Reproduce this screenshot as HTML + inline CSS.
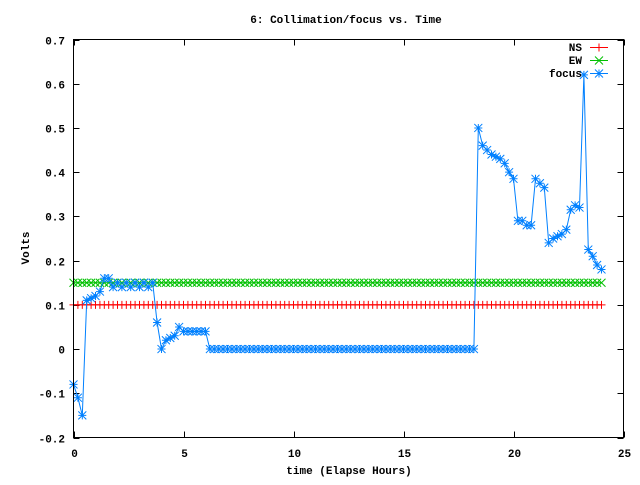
<!DOCTYPE html>
<html><head><meta charset="utf-8"><style>
body{margin:0;background:#fff}
svg text{font-family:"Liberation Mono",monospace;font-weight:bold;font-size:11px;fill:#000}
</style></head><body>
<svg id="chart" width="640" height="480" xmlns="http://www.w3.org/2000/svg">
<rect width="640" height="480" fill="#fff"/>
<text x="346" y="23" text-anchor="middle">6: Collimation/focus vs. Time</text>
<text x="349" y="474" text-anchor="middle">time (Elapse Hours)</text>
<text transform="translate(29,248) rotate(-90)" text-anchor="middle">Volts</text>
<g id="axes"></g>
<g id="series"></g>
<g id="legend"></g>
<rect x="73.5" y="39.5" width="550" height="398" fill="none" stroke="#000" stroke-width="1"/>
</svg>
<script>
const xTicks=[0,5,10,15,20,25];
const yTicks=[-0.2,-0.1,0,0.1,0.2,0.3,0.4,0.5,0.6,0.7];
const yTickLabels=["-0.2","-0.1","0","0.1","0.2","0.3","0.4","0.5","0.6","0.7"];
const times=[0,0.2,0.4,0.6,0.8,1,1.2,1.4,1.6,1.8,2,2.2,2.4,2.6,2.8,3,3.2,3.4,3.6,3.8,4,4.2,4.4,4.6,4.8,5,5.2,5.4,5.6,5.8,6,6.2,6.4,6.6,6.8,7,7.2,7.4,7.6,7.8,8,8.2,8.4,8.6,8.8,9,9.2,9.4,9.6,9.8,10,10.2,10.4,10.6,10.8,11,11.2,11.4,11.6,11.8,12,12.2,12.4,12.6,12.8,13,13.2,13.4,13.6,13.8,14,14.2,14.4,14.6,14.8,15,15.2,15.4,15.6,15.8,16,16.2,16.4,16.6,16.8,17,17.2,17.4,17.6,17.8,18,18.2,18.4,18.6,18.8,19,19.2,19.4,19.6,19.8,20,20.2,20.4,20.6,20.8,21,21.2,21.4,21.6,21.8,22,22.2,22.4,22.6,22.8,23,23.2,23.4,23.6,23.8,24];
const nsValues=[0.1,0.1,0.1,0.1,0.1,0.1,0.1,0.1,0.1,0.1,0.1,0.1,0.1,0.1,0.1,0.1,0.1,0.1,0.1,0.1,0.1,0.1,0.1,0.1,0.1,0.1,0.1,0.1,0.1,0.1,0.1,0.1,0.1,0.1,0.1,0.1,0.1,0.1,0.1,0.1,0.1,0.1,0.1,0.1,0.1,0.1,0.1,0.1,0.1,0.1,0.1,0.1,0.1,0.1,0.1,0.1,0.1,0.1,0.1,0.1,0.1,0.1,0.1,0.1,0.1,0.1,0.1,0.1,0.1,0.1,0.1,0.1,0.1,0.1,0.1,0.1,0.1,0.1,0.1,0.1,0.1,0.1,0.1,0.1,0.1,0.1,0.1,0.1,0.1,0.1,0.1,0.1,0.1,0.1,0.1,0.1,0.1,0.1,0.1,0.1,0.1,0.1,0.1,0.1,0.1,0.1,0.1,0.1,0.1,0.1,0.1,0.1,0.1,0.1,0.1,0.1,0.1,0.1,0.1,0.1,0.1];
const ewValues=[0.15,0.15,0.15,0.15,0.15,0.15,0.15,0.15,0.15,0.15,0.15,0.15,0.15,0.15,0.15,0.15,0.15,0.15,0.15,0.15,0.15,0.15,0.15,0.15,0.15,0.15,0.15,0.15,0.15,0.15,0.15,0.15,0.15,0.15,0.15,0.15,0.15,0.15,0.15,0.15,0.15,0.15,0.15,0.15,0.15,0.15,0.15,0.15,0.15,0.15,0.15,0.15,0.15,0.15,0.15,0.15,0.15,0.15,0.15,0.15,0.15,0.15,0.15,0.15,0.15,0.15,0.15,0.15,0.15,0.15,0.15,0.15,0.15,0.15,0.15,0.15,0.15,0.15,0.15,0.15,0.15,0.15,0.15,0.15,0.15,0.15,0.15,0.15,0.15,0.15,0.15,0.15,0.15,0.15,0.15,0.15,0.15,0.15,0.15,0.15,0.15,0.15,0.15,0.15,0.15,0.15,0.15,0.15,0.15,0.15,0.15,0.15,0.15,0.15,0.15,0.15,0.15,0.15,0.15,0.15,0.15];
const focusValues=[-0.08,-0.11,-0.15,0.11,0.115,0.12,0.13,0.16,0.16,0.14,0.15,0.14,0.15,0.14,0.15,0.14,0.15,0.14,0.15,0.06,0,0.02,0.025,0.03,0.05,0.04,0.04,0.04,0.04,0.04,0.04,
0,0,0,0,0,0,0,0,0,0,0,0,0,0,0,0,0,0,0,0,0,0,0,0,0,0,0,0,0,0,0,0,0,0,0,0,0,0,0,0,0,0,0,0,0,0,0,0,0,0,0,0,0,0,0,0,0,0,0,0,0,
0.5,0.46,0.45,0.44,0.435,0.43,0.42,0.40,0.385,0.29,0.29,0.28,0.28,0.385,0.375,0.365,0.24,0.25,0.255,0.26,0.27,0.315,0.325,0.32,0.62,0.225,0.21,0.19,0.18];

const NS="http://www.w3.org/2000/svg";
const X0=73.5,X1=623.5,Y0=437.5,Y1=39.5;
const xMin=0,xMax=25,yMin=-0.2,yMax=0.7;
const sx=v=>X0+(v-xMin)/(xMax-xMin)*(X1-X0);
const sy=v=>Y0-(v-yMin)/(yMax-yMin)*(Y0-Y1);
function mk(tag,attrs,parent){const e=document.createElementNS(NS,tag);for(const k in attrs)e.setAttribute(k,attrs[k]);parent.appendChild(e);return e;}
const axes=document.getElementById('axes');
yTicks.forEach((v,i)=>{
  const y=Math.round(sy(v))+0.5;
  const t1=mk('line',{x1:X0,x2:X0+6,y1:y,y2:y,stroke:'#000'},axes);
  
  
  const t2=mk('line',{x1:X1-6,x2:X1,y1:y,y2:y,stroke:'#000'},axes);
  
  
  const tx=mk('text',{x:65,y:y+4,'text-anchor':'end'},axes);
  tx.textContent=yTickLabels[i];
  
  
});
xTicks.forEach(v=>{
  const x=Math.round(sx(v))+0.5;
  const t1=mk('line',{x1:x,x2:x,y1:Y0,y2:Y0-6,stroke:'#000'},axes);
  
  
  const t2=mk('line',{x1:x,x2:x,y1:Y1,y2:Y1+6,stroke:'#000'},axes);
  
  
  const tx=mk('text',{x:x,y:457,'text-anchor':'middle'},axes);
  tx.textContent=String(v);
  
  
});
function marker(type,x,y,color,g){
  const s=4;let d='';
  if(type==='plus'||type==='star')d+=`M${x-s} ${y}H${x+s}M${x} ${y-s}V${y+s}`;
  if(type==='cross'||type==='star')d+=`M${x-s} ${y-s}L${x+s} ${y+s}M${x-s} ${y+s}L${x+s} ${y-s}`;
  const p=mk('path',{d:d,stroke:color,'stroke-width':1,fill:'none'},g);
  
  
}
const series=document.getElementById('series');
function drawSeries(name,vals,color,type){
  const g=mk('g',{},series);
  
  
  const pts=times.map((t,i)=>[sx(t),sy(vals[i])]);
  const line=mk('polyline',{points:pts.map(p=>p[0].toFixed(1)+','+p[1].toFixed(1)).join(' '),fill:'none',stroke:color,'stroke-width':1},g);
  
  
  pts.forEach(p=>marker(type,p[0],p[1],color,g));
}
drawSeries('ns',nsValues,'#ff0000','plus');
drawSeries('ew',ewValues,'#00c000','cross');
drawSeries('focus',focusValues,'#0080ff','star');
const legend=document.getElementById('legend');
[['NS','#ff0000','plus',47],['EW','#00c000','cross',60],['focus','#0080ff','star',73]].forEach(e=>{
  const g=mk('g',{},legend);
  
  
  const tx=mk('text',{x:582,y:e[3]+4,'text-anchor':'end'},g);
  tx.textContent=e[0];
  mk('line',{x1:590,x2:608,y1:e[3]+0.5,y2:e[3]+0.5,stroke:e[1]},g);
  marker(e[2],599,e[3]+0.5,e[1],g);
});
</script>
</body></html>
